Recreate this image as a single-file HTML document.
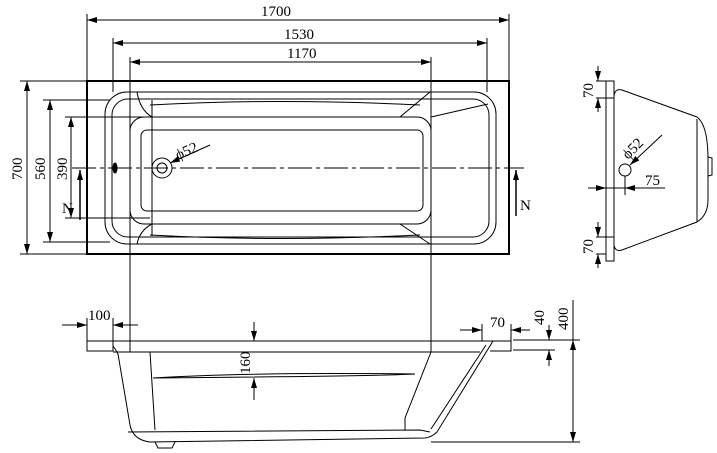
<!DOCTYPE html>
<html><head><style>body{margin:0;background:#fff}svg{display:block}text{font-family:"Liberation Serif",serif;font-size:15px;fill:#000}</style></head>
<body>
<svg width="717" height="453" viewBox="0 0 717 453" xmlns="http://www.w3.org/2000/svg">
<defs><marker id="a" viewBox="0 0 10 6" refX="10" refY="3" markerWidth="10" markerHeight="6" orient="auto-start-reverse" markerUnits="userSpaceOnUse"><path d="M0,0L10,3L0,6z" fill="#000"/></marker></defs>
<g stroke="#000" fill="none" stroke-width="1">
<line x1="87" y1="14" x2="87" y2="81"/><line x1="509" y1="14" x2="509" y2="81"/>
<line x1="87" y1="20" x2="509" y2="20" marker-start="url(#a)" marker-end="url(#a)"/>
<line x1="113" y1="38" x2="113" y2="92"/><line x1="487" y1="38" x2="487" y2="92"/>
<line x1="113" y1="43" x2="487" y2="43" marker-start="url(#a)" marker-end="url(#a)"/>
<line x1="130" y1="57" x2="130" y2="352"/><line x1="431" y1="57" x2="431" y2="352"/>
<line x1="130" y1="62" x2="431" y2="62" marker-start="url(#a)" marker-end="url(#a)"/>
<rect x="87" y="81" width="422" height="173" stroke-width="2"/>
<rect x="105" y="92" width="391" height="152" rx="22"/>
<rect x="112" y="99" width="377" height="138" rx="16"/>
<rect x="130" y="117" width="301" height="107" rx="14"/>
<rect x="141" y="130" width="282" height="81" rx="6"/>
<path d="M137,92 Q140,110 152,117 M137,244 Q140,230 152,224 M152,100 L152,236 M430,92 L400,117 M431,117 L488,104 M430,244 L400,224 M150,105 Q280,98 420,105 M150,235 Q280,242 420,235"/>
<line x1="72" y1="168" x2="524" y2="168" stroke-dasharray="24,4,4,4"/>
<circle cx="162" cy="168" r="10"/><circle cx="162" cy="168" r="5"/>
<ellipse cx="115" cy="168" rx="2" ry="5" fill="#000"/>
<line x1="170" y1="163" x2="210" y2="145" marker-start="url(#a)"/>
<line x1="20" y1="81" x2="87" y2="81"/><line x1="20" y1="254" x2="87" y2="254"/>
<line x1="27" y1="81" x2="27" y2="254" marker-start="url(#a)" marker-end="url(#a)"/>
<line x1="43" y1="100" x2="110" y2="100"/><line x1="43" y1="242" x2="110" y2="242"/>
<line x1="50" y1="100" x2="50" y2="242" marker-start="url(#a)" marker-end="url(#a)"/>
<line x1="65" y1="117" x2="150" y2="117"/><line x1="65" y1="218" x2="150" y2="218"/>
<line x1="71" y1="117" x2="71" y2="218" marker-start="url(#a)" marker-end="url(#a)"/>
<line x1="80" y1="220" x2="80" y2="170" marker-end="url(#a)" stroke-width="1.5"/>
<line x1="516" y1="216" x2="516" y2="170" marker-end="url(#a)" stroke-width="1.5"/>
<rect x="87" y="341" width="26" height="10"/>
<path d="M113,341 L493,341 M113,352 L480,352 M493,341 L511,341 L511,351 L490,351"/>
<path d="M113,346 Q116,350 118,354 L130,425 Q133,440 150,442 L425,438 Q432,437 437,432 L493,341"/>
<path d="M486,345 L431,429 M128,432 L420,430 L430,432 M150,352 L155,430 M431,352 L405,418 L405,430 M153,378 Q250,372 415,374 Q380,376 153,378"/>
<path d="M155,442 L158,448 L172,448 L175,442"/>
<line x1="62" y1="325" x2="87" y2="325" marker-end="url(#a)"/><line x1="138" y1="325" x2="113" y2="325" marker-end="url(#a)"/>
<line x1="87" y1="318" x2="87" y2="341"/><line x1="113" y1="318" x2="113" y2="341"/>
<line x1="254" y1="322" x2="254" y2="341" marker-end="url(#a)"/><line x1="254" y1="400" x2="254" y2="378" marker-end="url(#a)"/>
<line x1="460" y1="330" x2="482" y2="330" marker-end="url(#a)"/><line x1="530" y1="330" x2="511" y2="330" marker-end="url(#a)"/>
<line x1="482" y1="324" x2="482" y2="341"/><line x1="511" y1="324" x2="511" y2="341"/>
<line x1="513" y1="340" x2="580" y2="340"/><line x1="513" y1="350" x2="555" y2="350"/><line x1="431" y1="442" x2="580" y2="442"/>
<line x1="549" y1="325" x2="549" y2="340" marker-end="url(#a)"/><line x1="549" y1="366" x2="549" y2="350" marker-end="url(#a)"/>
<line x1="573" y1="300" x2="573" y2="442"/>
<line x1="573" y1="360" x2="573" y2="340" marker-end="url(#a)"/><line x1="573" y1="420" x2="573" y2="442" marker-end="url(#a)"/>
<rect x="606" y="81" width="8" height="180"/>
<path d="M614,96 Q615,88 622,90 L697,117 Q708,125 708,160 L708,200 Q708,215 697,222 L622,250 Q615,252 614,245"/>
<path d="M697,119 L697,222 M708,157 L712,158 L712,175 L708,176"/>
<circle cx="625" cy="170" r="6"/>
<line x1="630" y1="165" x2="662" y2="135" marker-start="url(#a)"/>
<line x1="588" y1="188" x2="665" y2="188"/><line x1="598" y1="188" x2="606" y2="188" marker-end="url(#a)"/><line x1="632" y1="188" x2="625" y2="188" marker-end="url(#a)"/><line x1="625" y1="176" x2="625" y2="195"/>
<line x1="596" y1="81" x2="606" y2="81"/><line x1="596" y1="98" x2="614" y2="98"/>
<line x1="598" y1="66" x2="598" y2="81" marker-end="url(#a)"/><line x1="598" y1="112" x2="598" y2="98" marker-end="url(#a)"/>
<line x1="596" y1="237" x2="614" y2="237"/><line x1="596" y1="254" x2="606" y2="254"/>
<line x1="598" y1="222" x2="598" y2="237" marker-end="url(#a)"/><line x1="598" y1="268" x2="598" y2="254" marker-end="url(#a)"/>
</g>
<text x="261" y="16">1700</text><text x="284" y="39">1530</text><text x="287" y="58">1170</text>
<text transform="translate(22,180) rotate(-90)">700</text>
<text transform="translate(45,180) rotate(-90)">560</text>
<text transform="translate(67,180) rotate(-90)">390</text>
<text x="62" y="213">N</text><text x="520" y="210">N</text>
<text transform="translate(178,160) rotate(-24)">ϕ52</text>
<text x="88" y="320">100</text><text x="490" y="327">70</text>
<text transform="translate(250,374) rotate(-90)">160</text>
<text transform="translate(544,325) rotate(-90)">40</text>
<text transform="translate(568,330) rotate(-90)">400</text>
<text transform="translate(593,98) rotate(-90)">70</text>
<text transform="translate(593,254) rotate(-90)">70</text>
<text x="645" y="185">75</text>
<text transform="translate(628,160) rotate(-45)">ϕ52</text>
</svg>
</body></html>
